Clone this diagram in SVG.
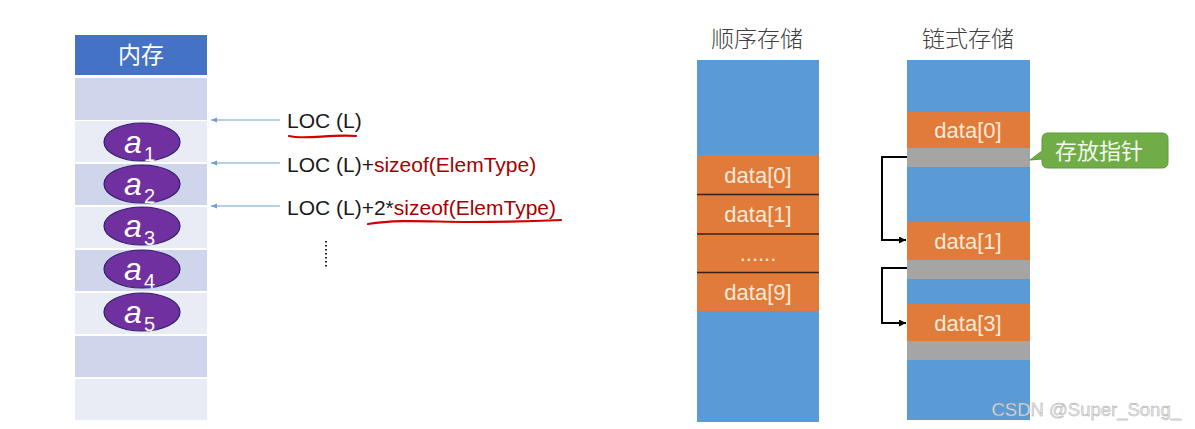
<svg xmlns="http://www.w3.org/2000/svg" width="1195" height="429" viewBox="0 0 1195 429">
<style>
.cjk{font-family:"Noto Sans CJK SC","Noto Sans",sans-serif}
.lat{font-family:"Liberation Sans","Noto Sans",sans-serif}
.rowA{fill:#cfd5ea}
.rowB{fill:#e9ebf5}
.ell{fill:#7030a0;stroke:#2f1f6e;stroke-width:1.2}
.ai{font-family:"Liberation Sans",sans-serif;font-style:italic;fill:#fff;font-size:32px}
.sub{font-family:"Liberation Sans",sans-serif;fill:#fff;font-size:20px}
.blue{fill:#5b9bd5}
.org{fill:#e07b39}
.gry{fill:#a5a5a5}
.dt{font-family:"Liberation Sans",sans-serif;font-size:22px;fill:#fde9d9;text-anchor:middle}
.ttl{font-size:23px;fill:#404040;text-anchor:middle;font-weight:300}
.ptr{fill:none;stroke:#000;stroke-width:2}
.barr{stroke:#6f9fd0;stroke-width:1.2;fill:none}
.red{fill:#a50000}
.uline{fill:none;stroke:#d00000;stroke-width:2.2;stroke-linecap:round}
</style>
<defs>
<marker id="ah" viewBox="0 0 10 10" refX="10" refY="5" markerWidth="7" markerHeight="7" orient="auto" markerUnits="userSpaceOnUse">
<path d="M0,0 L10,5 L0,10 z" fill="#000"/>
</marker>
<marker id="bh" viewBox="0 0 10 10" refX="10" refY="5" markerWidth="8" markerHeight="6" orient="auto" markerUnits="userSpaceOnUse">
<path d="M0,1 L10,5 L0,9 z" fill="#6f9fd0"/>
</marker>
</defs>
<rect width="1195" height="429" fill="#fff"/>

<g id="memory">
<rect x="75" y="35" width="132" height="40" fill="#4472c4"/>
<text x="141" y="63" class="cjk" font-size="23" fill="#fff" text-anchor="middle">内存</text>
<rect x="75" y="78" width="132" height="42" class="rowA"/>
<rect x="75" y="121" width="132" height="41" class="rowB"/>
<rect x="75" y="164" width="132" height="41" class="rowA"/>
<rect x="75" y="207" width="132" height="41" class="rowB"/>
<rect x="75" y="250" width="132" height="41" class="rowA"/>
<rect x="75" y="293" width="132" height="41" class="rowB"/>
<rect x="75" y="336" width="132" height="41" class="rowA"/>
<rect x="75" y="379" width="132" height="41" class="rowB"/>
</g>

<g id="a1"><ellipse cx="142" cy="142" rx="38" ry="19" class="ell"/><text x="124" y="153" class="ai">a</text><text x="144" y="161" class="sub">1</text></g>
<g id="a2"><ellipse cx="142" cy="184" rx="38" ry="19" class="ell"/><text x="124" y="195" class="ai">a</text><text x="144" y="203" class="sub">2</text></g>
<g id="a3"><ellipse cx="142" cy="226" rx="38" ry="19" class="ell"/><text x="124" y="237" class="ai">a</text><text x="144" y="245" class="sub">3</text></g>
<g id="a4"><ellipse cx="142" cy="269" rx="38" ry="19" class="ell"/><text x="124" y="280" class="ai">a</text><text x="144" y="288" class="sub">4</text></g>
<g id="a5"><ellipse cx="142" cy="312" rx="38" ry="19" class="ell"/><text x="124" y="323" class="ai">a</text><text x="144" y="331" class="sub">5</text></g>

<g id="labels">
<text x="287" y="128" class="lat" font-size="21" fill="#1a1a1a">LOC (L)</text>
<text x="287" y="172" class="lat" font-size="21" fill="#1a1a1a">LOC (L)+<tspan class="red">sizeof(ElemType)</tspan></text>
<text x="287" y="215" class="lat" font-size="21" fill="#1a1a1a">LOC (L)+2*<tspan class="red">sizeof(ElemType)</tspan></text>
<path class="uline" d="M289,136 C305,140 330,134 356,136"/>
<path class="uline" d="M368,224 C400,219 430,222 470,222 C510,222 540,221 561,220"/>
<line x1="326" y1="241" x2="326" y2="269" stroke="#222" stroke-width="2" stroke-dasharray="1.5,2.5"/>
</g>

<g id="seq">
<text x="757" y="47" class="cjk ttl">顺序存储</text>
<rect x="697" y="60" width="122" height="362" class="blue"/>
<rect x="697" y="155" width="122" height="156" class="org"/>
<line x1="697" y1="194.5" x2="819" y2="194.5" stroke="#3a2010" stroke-width="1.5"/>
<line x1="697" y1="234" x2="819" y2="234" stroke="#3a2010" stroke-width="1.5"/>
<line x1="697" y1="272.5" x2="819" y2="272.5" stroke="#3a2010" stroke-width="1.5"/>
<text x="758" y="183" class="dt">data[0]</text>
<text x="758" y="222" class="dt">data[1]</text>
<text x="758" y="261" class="dt">......</text>
<text x="758" y="300" class="dt">data[9]</text>
</g>

<g id="linked">
<text x="968" y="47" class="cjk ttl">链式存储</text>
<rect x="907" y="60" width="123" height="360" class="blue"/>
<rect x="907" y="112" width="123" height="36" class="org"/>
<rect x="907" y="148" width="123" height="19" class="gry"/>
<rect x="907" y="222" width="123" height="38" class="org"/>
<rect x="907" y="260" width="123" height="19" class="gry"/>
<rect x="907" y="304" width="123" height="37" class="org"/>
<rect x="907" y="341" width="123" height="19" class="gry"/>
<text x="968" y="138" class="dt">data[0]</text>
<text x="968" y="249" class="dt">data[1]</text>
<text x="968" y="331" class="dt">data[3]</text>
</g>

<g id="callout">
<path d="M1048,133 H1162 Q1168,133 1168,139 V162 Q1168,168 1162,168 H1048 Q1042,168 1042,162 V159 L1030,160 L1042,151 V139 Q1042,133 1048,133 Z" fill="#70ad47" stroke="#5a9a38" stroke-width="1"/>
<text x="1099" y="159" class="cjk" font-size="22" fill="#f2f8ee" text-anchor="middle">存放指针</text>
</g>

<g id="connectors">
<line x1="280" y1="120" x2="211" y2="120" class="barr" marker-end="url(#bh)"/>
<line x1="280" y1="163" x2="211" y2="163" class="barr" marker-end="url(#bh)"/>
<line x1="280" y1="206" x2="211" y2="206" class="barr" marker-end="url(#bh)"/>
<path d="M907,157 H882 V240 H906" class="ptr" marker-end="url(#ah)"/>
<path d="M907,268 H882 V323 H906" class="ptr" marker-end="url(#ah)"/>
</g>

<text x="1181" y="416" class="lat" font-size="18.5" fill="#e6e6e6" stroke="#9a9a9a" stroke-width="0.4" text-anchor="end" opacity="0.9">CSDN @Super_Song_</text>
</svg>
